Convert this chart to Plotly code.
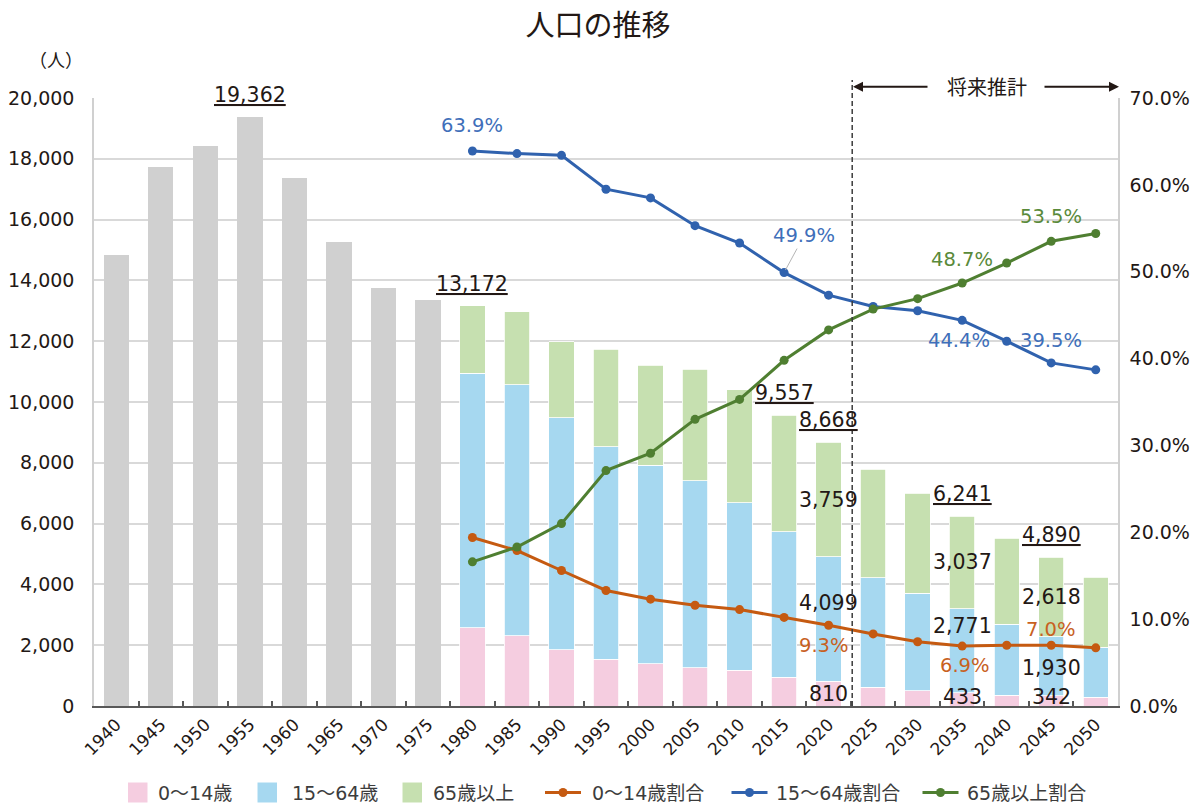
import plotly.graph_objects as go

# ---------------- data ----------------
years = ['1940', '1945', '1950', '1955', '1960', '1965', '1970', '1975',
         '1980', '1985', '1990', '1995', '2000', '2005', '2010', '2015',
         '2020', '2025', '2030', '2035', '2040', '2045', '2050']
early_years = years[:8]
early_total = [14840, 17730, 18420, 19362, 17380, 15260, 13760, 13360]

recent_years = years[8:]
pop_0_14 = [2576, 2313, 1852, 1546, 1393, 1261, 1184, 954, 810, 625, 503, 433, 362, 342, 296]
pop_15_64 = [8368, 8256, 7622, 6984, 6524, 6151, 5504, 4780, 4099, 3586, 3204, 2771, 2326, 1930, 1635]
pop_65 = [2228, 2392, 2500, 3213, 3290, 3664, 3707, 3823, 3759, 3585, 3289, 3037, 2828, 2618, 2312]

pct_0_14 = [19.4, 17.9, 15.6, 13.3, 12.3, 11.6, 11.1, 10.2, 9.3, 8.3, 7.4, 6.9, 7.0, 7.0, 6.7]
pct_15_64 = [63.9, 63.6, 63.4, 59.5, 58.5, 55.3, 53.3, 49.9, 47.3, 46.0, 45.5, 44.4, 42.0, 39.5, 38.7]
pct_65 = [16.6, 18.3, 21.0, 27.1, 29.1, 33.0, 35.3, 39.8, 43.3, 45.7, 46.9, 48.7, 51.0, 53.5, 54.4]

names = ['0～14歳', '15～64歳', '65歳以上', '0～14歳割合', '15～64歳割合', '65歳以上割合']
total_label_years = ['1955', '1980', '2015', '2020', '2035', '2045']

# ---------------- style ----------------
NUM_FONT = "DejaVu Sans, Noto Sans CJK JP"
JP_FONT = "Noto Sans CJK JP, DejaVu Sans"
TXT = '#231815'
C_GRAY = '#d0d0d0'
C_PINK = '#f5cde0'
C_BLUE = '#a6d8f0'
C_GREEN = '#c6e0b0'
L_ORANGE = '#c55a11'
L_BLUE = '#3062ae'
L_GREEN = '#4f7f31'
T_ORANGE = '#c8611f'
T_BLUE = '#3f6fba'
T_GREEN = '#5a8a3a'

W, H = 1196, 803
ML, MR, MT, MB = 94, 78, 98, 97
PW, PH = W - ML - MR, H - MT - MB


def px(xp):
    # pixel x -> paper x
    return (xp - ML) / PW


def py(yp):
    # pixel y -> paper y
    return (H - MB - yp) / PH


def xi(year):
    # category index of a year on the category axis
    return years.index(year)


fig = go.Figure()

fig.add_trace(go.Bar(x=early_years, y=early_total, marker=dict(color=C_GRAY, line=dict(width=0)),
                     showlegend=False, name='総人口'))
bar_series = [(pop_0_14, C_PINK, names[0]), (pop_15_64, C_BLUE, names[1]), (pop_65, C_GREEN, names[2])]
for vals, col, nm in bar_series:
    fig.add_trace(go.Bar(x=recent_years, y=vals, name=nm, showlegend=False,
                         marker=dict(color=col, line=dict(color='white', width=0.8))))

line_series = [(pct_0_14, L_ORANGE, names[3]), (pct_15_64, L_BLUE, names[4]), (pct_65, L_GREEN, names[5])]
for vals, col, nm in line_series:
    fig.add_trace(go.Scatter(x=recent_years, y=vals, yaxis='y2', name=nm, mode='lines+markers',
                             showlegend=False,
                             line=dict(color=col, width=3), marker=dict(color=col, size=9)))

annotations = []
shapes = []

# total labels (underlined)
totals = dict(zip(early_years, early_total))
for y_, a, b, c in zip(recent_years, pop_0_14, pop_15_64, pop_65):
    totals[y_] = a + b + c
for y_ in total_label_years:
    annotations.append(dict(x=xi(y_), y=totals[y_], xref='x', yref='y',
                            text='<u>%s</u>' % format(totals[y_], ','),
                            showarrow=False, xanchor='center', yanchor='middle', yshift=22,
                            font=dict(family=NUM_FONT, size=20.5, color=TXT)))

# segment labels: (year, segment index, pixel shift)
seg_labels = [('2020', 0, 0), ('2020', 1, 16), ('2020', 2, 0),
              ('2035', 0, 2), ('2035', 1, 25), ('2035', 2, 0),
              ('2045', 0, 4), ('2045', 1, -2), ('2045', 2, 0)]
for y_, seg, dy in seg_labels:
    i = recent_years.index(y_)
    segs = [pop_0_14[i], pop_15_64[i], pop_65[i]]
    base = sum(segs[:seg])
    annotations.append(dict(x=xi(y_), y=base + segs[seg] / 2, xref='x', yref='y', text=format(segs[seg], ','),
                            showarrow=False, xanchor='center', yanchor='middle', yshift=dy,
                            font=dict(family=NUM_FONT, size=20.5, color=TXT)))

# percentage labels: (year, series, color, dy, dx)
pct_labels = [('1980', pct_15_64, T_BLUE, 25, 0),
              ('2035', pct_15_64, T_BLUE, -20, -3),
              ('2045', pct_15_64, T_BLUE, 22, 0),
              ('2035', pct_65, T_GREEN, 24, 0),
              ('2045', pct_65, T_GREEN, 25, 0),
              ('2020', pct_0_14, T_ORANGE, -20, -5),
              ('2035', pct_0_14, T_ORANGE, -19, 3),
              ('2045', pct_0_14, T_ORANGE, 16, 0)]
for y_, ser, col, dy, dx in pct_labels:
    v = ser[recent_years.index(y_)]
    annotations.append(dict(x=xi(y_), y=v, xref='x', yref='y2', text='%.1f%%' % v, showarrow=False,
                            xanchor='center', yanchor='middle', yshift=dy, xshift=dx,
                            font=dict(family=NUM_FONT, size=19.5, color=col)))
# 49.9% with leader line
v = pct_15_64[recent_years.index('2015')]
annotations.append(dict(x=xi('2015'), y=v, xref='x', yref='y2', text='%.1f%%' % v, showarrow=True,
                        arrowhead=0, arrowwidth=1, arrowcolor='#b5b5b5', standoff=3, ax=20, ay=-37,
                        font=dict(family=NUM_FONT, size=19.5, color=T_BLUE)))

# unit label
annotations.append(dict(x=px(56), y=py(59), xref='paper', yref='paper', text='（人）', showarrow=False,
                        xanchor='center', yanchor='middle',
                        font=dict(family=JP_FONT, size=18, color=TXT)))
# projection header with arrows
annotations.append(dict(x=px(987), y=py(86), xref='paper', yref='paper', text='将来推計', showarrow=False,
                        xanchor='center', yanchor='middle',
                        font=dict(family=JP_FONT, size=20, color=TXT)))
annotations.append(dict(x=px(853), y=py(86.7), xref='paper', yref='paper', text='', showarrow=True,
                        axref='pixel', ayref='pixel', ax=76, ay=0,
                        arrowhead=2, arrowsize=1, arrowwidth=2, arrowcolor=TXT))
annotations.append(dict(x=px(1119), y=py(86.7), xref='paper', yref='paper', text='', showarrow=True,
                        axref='pixel', ayref='pixel', ax=-76, ay=0,
                        arrowhead=2, arrowsize=1, arrowwidth=2, arrowcolor=TXT))

# boundary between actual and projected values
shapes.append(dict(type='line', xref='x', yref='paper', x0=16.53, x1=16.53, y0=0, y1=py(80),
                   line=dict(color='#3c3c3c', width=1.5, dash='5px,3px')))

# ---------------- legend (drawn at the bottom) ----------------
LEG_Y = 792.5
leg_font = dict(family=NUM_FONT, size=19, color='#3c3c3c')
sq_left = [128, 257.5, 402.5]
sq_text = [156, 290, 431]
for (vals, col, nm), x0, xt in zip(bar_series, sq_left, sq_text):
    shapes.append(dict(type='rect', xref='paper', yref='paper', x0=px(x0), x1=px(x0 + 19.5),
                       y0=py(LEG_Y + 10), y1=py(LEG_Y - 10), fillcolor=col, line=dict(width=0)))
    annotations.append(dict(x=px(xt), y=py(LEG_Y), xref='paper', yref='paper', text=nm, showarrow=False,
                            xanchor='left', yanchor='middle', font=leg_font))
ln_left = [545, 731.5, 922.5]
ln_text = [590, 774, 965]
for (vals, col, nm), x0, xt in zip(line_series, ln_left, ln_text):
    shapes.append(dict(type='line', xref='paper', yref='paper', x0=px(x0), x1=px(x0 + 36),
                       y0=py(LEG_Y), y1=py(LEG_Y), line=dict(color=col, width=3)))
    shapes.append(dict(type='circle', xref='paper', yref='paper', x0=px(x0 + 18 - 4.5), x1=px(x0 + 18 + 4.5),
                       y0=py(LEG_Y + 4.5), y1=py(LEG_Y - 4.5), fillcolor=col, line=dict(width=0)))
    annotations.append(dict(x=px(xt), y=py(LEG_Y), xref='paper', yref='paper', text=nm, showarrow=False,
                            xanchor='left', yanchor='middle', font=leg_font))

fig.update_layout(
    width=W, height=H,
    margin=dict(l=ML, r=MR, t=MT, b=MB, autoexpand=False),
    paper_bgcolor='white', plot_bgcolor='white',
    barmode='stack', bargap=0.43,
    showlegend=False,
    title=dict(text='人口の推移', x=0.5, xanchor='center', y=1 - 26 / H, yanchor='middle',
               font=dict(family=JP_FONT, size=29, color=TXT)),
    xaxis=dict(type='category', categoryorder='array', categoryarray=years,
               range=[-0.5, len(years) - 0.5], autorange=False, automargin=False,
               tickangle=-45, tickfont=dict(family=NUM_FONT, size=17, color=TXT),
               showline=True, linecolor='#595959', linewidth=2,
               ticks='inside', tickson='boundaries', ticklen=5, tickwidth=1.5, tickcolor='#595959',
               showgrid=False),
    yaxis=dict(range=[0, 20000], dtick=2000, tickformat=',d', automargin=False,
               tickfont=dict(family=NUM_FONT, size=19, color=TXT),
               showgrid=True, gridcolor='#d9d9d9', gridwidth=1.5, zeroline=False,
               showline=True, linecolor='#d0d0d0', linewidth=1.5, ticks='', ticklabelstandoff=14),
    yaxis2=dict(range=[0, 70], dtick=10, tickformat='.1f', ticksuffix='%', overlaying='y', side='right',
                automargin=False,
                tickfont=dict(family=NUM_FONT, size=19, color=TXT),
                showgrid=False, zeroline=False,
                showline=True, linecolor='#d0d0d0', linewidth=1.5, ticks='', ticklabelstandoff=6),
    annotations=annotations,
    shapes=shapes,
)

fig.write_html("out.html", config={'displayModeBar': False},
               post_script="document.body.style.margin='0px';")
